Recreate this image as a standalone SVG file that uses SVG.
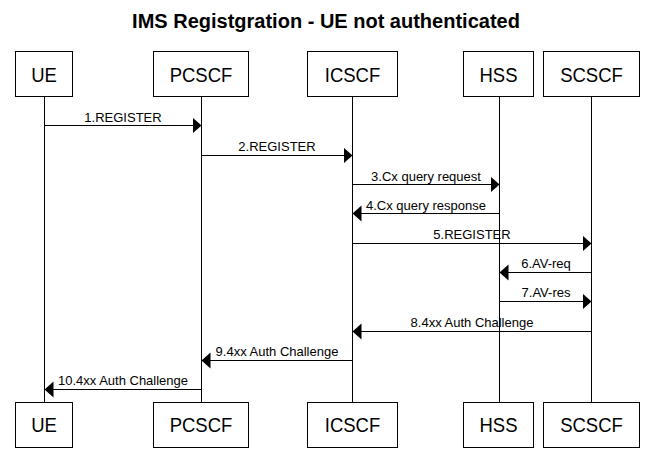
<svg xmlns="http://www.w3.org/2000/svg" width="652" height="449" viewBox="0 0 652 449">
  <defs>
    <marker id="ah" markerUnits="userSpaceOnUse" markerWidth="10" markerHeight="17" viewBox="0 0 10 17" refX="9" refY="8" orient="auto">
      <path d="M0,0 L9,8 L0,16 z" fill="#000"/>
    </marker>
    <style>
      .box { fill: #fff; stroke: #000; stroke-width: 1; }
      .life { stroke: #000; stroke-width: 1; }
      .msg { stroke: #000; stroke-width: 1; fill: none; marker-end: url(#ah); }
      .lbl { font-family: "Liberation Sans", Arial, sans-serif; font-size: 21px; text-anchor: middle; fill: #000; }
      .mlbl { font-family: "Liberation Sans", Arial, sans-serif; font-size: 13px; text-anchor: middle; fill: #000; }
      .title { font-family: "Liberation Sans", Arial, sans-serif; font-size: 20px; font-weight: bold; text-anchor: middle; fill: #000; }
    </style>
  </defs>
  <rect width="652" height="449" fill="#fff"/>
  <text class="title" x="326" y="28">IMS Registgration - UE not authenticated</text>

  <g id="lifelines">
    <line class="life" x1="44.5" y1="96" x2="44.5" y2="402"/>
    <line class="life" x1="201.5" y1="96" x2="201.5" y2="402"/>
    <line class="life" x1="352.5" y1="96" x2="352.5" y2="402"/>
    <line class="life" x1="499.5" y1="96" x2="499.5" y2="402"/>
    <line class="life" x1="591.5" y1="96" x2="591.5" y2="402"/>
  </g>

  <g id="UE">
    <rect class="box" x="15.5" y="51.5" width="57" height="45"/>
    <text class="lbl" transform="translate(44,82) scale(0.88,1)">UE</text>
    <rect class="box" x="15.5" y="402.5" width="57" height="45"/>
    <text class="lbl" transform="translate(44,432) scale(0.88,1)">UE</text>
  </g>
  <g id="PCSCF">
    <rect class="box" x="153.5" y="51.5" width="95" height="45"/>
    <text class="lbl" transform="translate(201,82) scale(0.88,1)">PCSCF</text>
    <rect class="box" x="153.5" y="402.5" width="95" height="45"/>
    <text class="lbl" transform="translate(201,432) scale(0.88,1)">PCSCF</text>
  </g>
  <g id="ICSCF">
    <rect class="box" x="307.5" y="51.5" width="90" height="45"/>
    <text class="lbl" transform="translate(352.5,82) scale(0.88,1)">ICSCF</text>
    <rect class="box" x="307.5" y="402.5" width="90" height="45"/>
    <text class="lbl" transform="translate(352.5,432) scale(0.88,1)">ICSCF</text>
  </g>
  <g id="HSS">
    <rect class="box" x="463.5" y="51.5" width="70" height="45"/>
    <text class="lbl" transform="translate(498.5,82) scale(0.88,1)">HSS</text>
    <rect class="box" x="463.5" y="402.5" width="70" height="45"/>
    <text class="lbl" transform="translate(498.5,432) scale(0.88,1)">HSS</text>
  </g>
  <g id="SCSCF">
    <rect class="box" x="543.5" y="51.5" width="96" height="45"/>
    <text class="lbl" transform="translate(591.5,82) scale(0.88,1)">SCSCF</text>
    <rect class="box" x="543.5" y="402.5" width="96" height="45"/>
    <text class="lbl" transform="translate(591.5,432) scale(0.88,1)">SCSCF</text>
  </g>

  <g id="connectors">
    <line class="msg" x1="44.5" y1="125.5" x2="201.5" y2="125.5"/>
    <text class="mlbl" x="123" y="122">1.REGISTER</text>
    <line class="msg" x1="201.5" y1="155.5" x2="352.5" y2="155.5"/>
    <text class="mlbl" x="277" y="151">2.REGISTER</text>
    <line class="msg" x1="352.5" y1="184.5" x2="499.5" y2="184.5"/>
    <text class="mlbl" x="426" y="181">3.Cx query request</text>
    <line class="msg" x1="499.5" y1="213.5" x2="352.5" y2="213.5"/>
    <text class="mlbl" x="426" y="210">4.Cx query response</text>
    <line class="msg" x1="352.5" y1="243.5" x2="591.5" y2="243.5"/>
    <text class="mlbl" x="472" y="239">5.REGISTER</text>
    <line class="msg" x1="591.5" y1="272.5" x2="499.5" y2="272.5"/>
    <text class="mlbl" x="546" y="268">6.AV-req</text>
    <line class="msg" x1="499.5" y1="301.5" x2="591.5" y2="301.5"/>
    <text class="mlbl" x="546" y="297">7.AV-res</text>
    <line class="msg" x1="591.5" y1="331.5" x2="352.5" y2="331.5"/>
    <text class="mlbl" x="472" y="327">8.4xx Auth Challenge</text>
    <line class="msg" x1="352.5" y1="360.5" x2="201.5" y2="360.5"/>
    <text class="mlbl" x="277" y="356">9.4xx Auth Challenge</text>
    <line class="msg" x1="201.5" y1="389.5" x2="44.5" y2="389.5"/>
    <text class="mlbl" x="123" y="385">10.4xx Auth Challenge</text>
  </g>
</svg>
